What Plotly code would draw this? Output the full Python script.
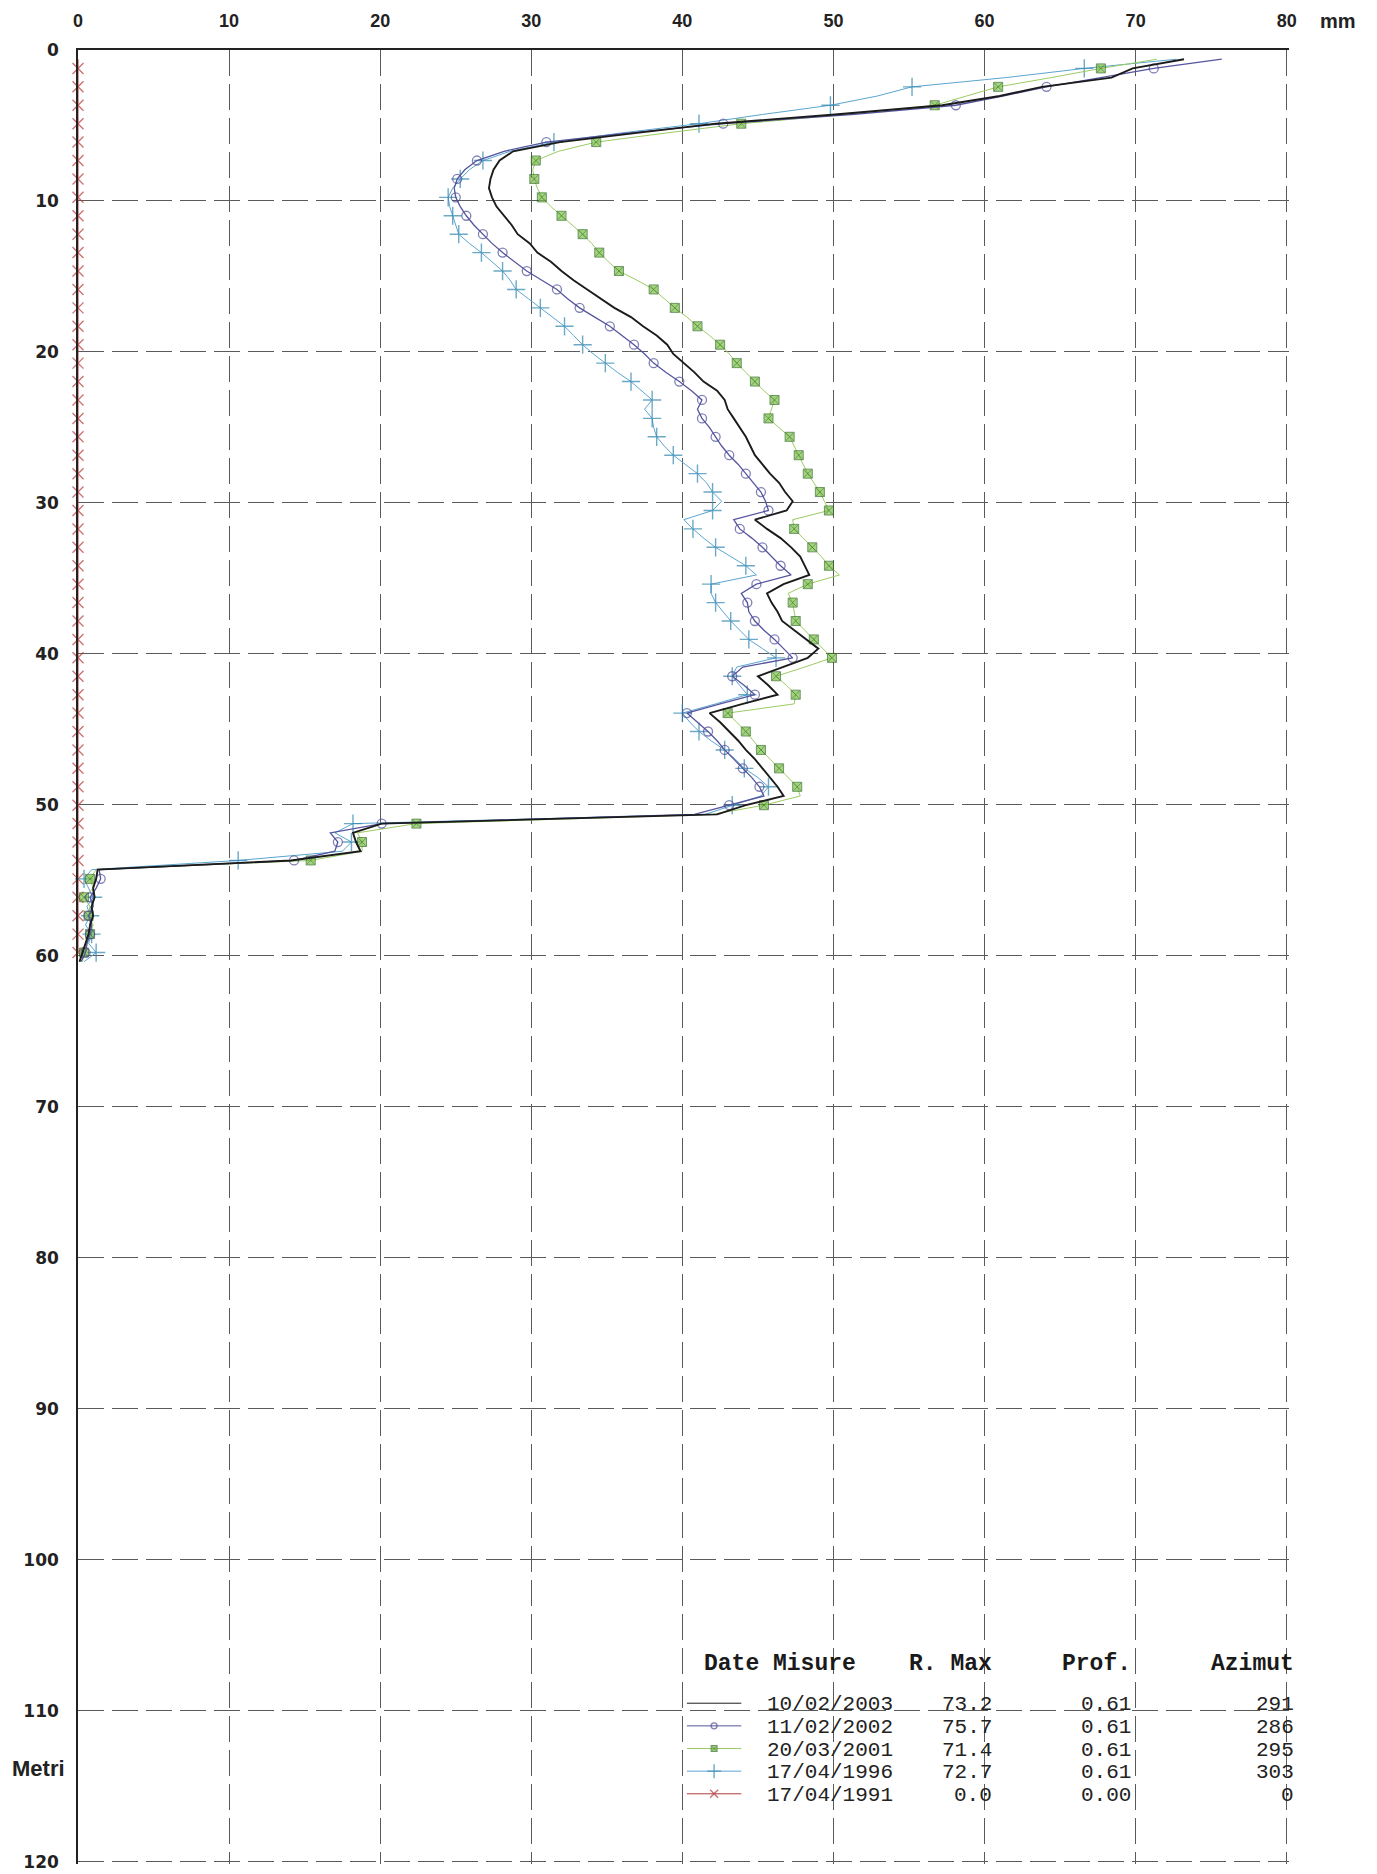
import plotly.graph_objects as go

# ---------------- data ----------------
DEPTH = [0.61, 1.22, 1.83, 2.44, 3.05, 3.66, 4.27, 4.88, 5.49, 6.10,
         6.71, 7.32, 7.93, 8.54, 9.15, 9.76, 10.37, 10.98, 11.59, 12.20,
         12.81, 13.42, 14.03, 14.64, 15.25, 15.86, 16.47, 17.08, 17.69, 18.30,
         18.91, 19.52, 20.13, 20.74, 21.35, 21.96, 22.57, 23.18, 23.79, 24.40,
         25.01, 25.62, 26.23, 26.84, 27.45, 28.06, 28.67, 29.28, 29.89, 30.50,
         31.11, 31.72, 32.33, 32.94, 33.55, 34.16, 34.77, 35.38, 35.99, 36.60,
         37.21, 37.82, 38.43, 39.04, 39.65, 40.26, 40.87, 41.48, 42.09, 42.70,
         43.31, 43.92, 44.53, 45.14, 45.75, 46.36, 46.97, 47.58, 48.19, 48.80,
         49.41, 50.02, 50.63, 51.24, 51.85, 52.46, 53.07, 53.68, 54.29, 54.90,
         55.51, 56.12, 56.73, 57.34, 57.95, 58.56, 59.17, 59.78, 60.39]

S_2003 = [73.2, 69.8, 68.4, 63.8, 61.0, 57.2, 50.1, 42.2, 37.0, 31.9,
          28.8, 27.9, 27.5, 27.3, 27.2, 27.4, 27.7, 28.2, 28.7, 29.1,
          29.9, 30.4, 31.3, 32.0, 32.8, 33.7, 34.6, 35.5, 36.6, 37.4,
          38.3, 39.0, 39.4, 40.1, 40.8, 41.4, 42.3, 42.8, 43.0, 43.4,
          43.8, 44.2, 44.5, 44.8, 45.3, 45.8, 46.4, 46.8, 47.3, 46.9,
          44.8, 45.6, 46.5, 47.2, 47.8, 48.1, 48.4, 46.7, 45.6, 45.9,
          46.3, 46.6, 47.4, 48.2, 49.0, 48.3, 46.7, 45.0, 45.7, 46.3,
          44.0, 41.8, 42.5, 43.1, 43.7, 44.2, 44.8, 45.3, 45.8, 46.3,
          46.7, 44.2, 42.3, 20.1, 18.2, 18.4, 18.7, 14.1, 1.3, 1.2,
          1.0, 1.1, 0.9, 1.0, 0.8, 0.7, 0.5, 0.3, 0.1]

S_2002 = [75.7, 71.2, 67.7, 64.1, 61.2, 58.1, 51.4, 42.7, 36.5, 31.0,
          28.2, 26.4, 25.6, 25.1, 24.9, 25.0, 25.3, 25.7, 26.2, 26.8,
          27.4, 28.1, 28.9, 29.7, 30.7, 31.7, 32.4, 33.2, 34.2, 35.2,
          36.0, 36.8, 37.5, 38.1, 38.9, 39.8, 40.6, 41.3, 41.0, 41.3,
          41.8, 42.2, 42.6, 43.1, 43.7, 44.2, 44.7, 45.2, 45.5, 45.7,
          43.4, 43.8, 44.6, 45.3, 45.9, 46.5, 47.2, 44.9, 43.9, 44.3,
          44.4, 44.8, 45.4, 46.1, 46.7, 47.3, 44.0, 43.3, 44.1, 44.8,
          42.5, 40.3, 41.0, 41.7, 42.3, 42.8, 43.4, 44.0, 44.6, 45.1,
          45.4, 43.1, 40.8, 20.1, 16.7, 17.2, 17.0, 14.3, 1.4, 1.5,
          1.2, 0.8, 1.0, 0.7, 0.9, 0.8, 0.6, 0.5, 0.2]

S_2001 = [71.4, 67.7, 64.4, 60.9, 58.8, 56.7, 50.8, 43.9, 39.0, 34.3,
          31.8, 30.3, 30.1, 30.2, 30.4, 30.7, 31.3, 32.0, 32.7, 33.4,
          34.0, 34.5, 35.1, 35.8, 37.0, 38.1, 38.8, 39.5, 40.3, 41.0,
          41.8, 42.5, 43.1, 43.6, 44.2, 44.8, 45.4, 46.1, 45.9, 45.7,
          46.4, 47.1, 47.4, 47.7, 48.0, 48.3, 48.7, 49.1, 49.4, 49.7,
          47.3, 47.4, 48.0, 48.6, 49.2, 49.7, 50.4, 48.3, 47.0, 47.3,
          47.4, 47.5, 48.1, 48.7, 49.3, 49.9, 48.1, 46.2, 46.9, 47.5,
          47.4, 43.0, 43.6, 44.2, 44.7, 45.2, 45.8, 46.4, 47.0, 47.6,
          47.8, 45.4, 42.0, 22.4, 18.5, 18.8, 18.8, 15.4, 1.2, 0.8,
          1.0, 0.4, 0.8, 0.7, 1.0, 0.8, 0.6, 0.4, 0.3]

S_1996 = [72.7, 66.6, 61.4, 55.2, 52.9, 49.8, 45.3, 41.1, 36.0, 31.5,
          28.6, 26.8, 25.9, 25.3, 24.8, 24.5, 24.6, 24.8, 25.0, 25.2,
          25.9, 26.7, 27.4, 28.1, 28.6, 29.0, 29.8, 30.6, 31.4, 32.2,
          32.8, 33.4, 34.1, 34.9, 35.7, 36.6, 37.3, 38.0, 37.5, 38.0,
          38.1, 38.3, 38.8, 39.4, 40.2, 41.0, 41.6, 42.0, 42.6, 42.0,
          40.1, 40.7, 41.4, 42.2, 43.2, 44.2, 44.9, 41.9, 41.9, 42.2,
          42.7, 43.2, 43.8, 44.4, 45.3, 46.2, 43.6, 43.3, 43.8, 44.3,
          42.2, 40.0, 40.5, 41.1, 41.9, 42.8, 43.5, 44.1, 45.0, 45.7,
          45.2, 43.3, 41.5, 18.2, 17.0, 18.1, 17.5, 10.6, 0.9, 0.4,
          0.7, 1.0, 0.6, 0.8, 0.5, 0.9, 0.7, 1.2, 0.4]

S_1991 = [0.0, 0.0, 0.0, 0.0, 0.0, 0.0, 0.0, 0.0, 0.0, 0.0,
          0.0, 0.0, 0.0, 0.0, 0.0, 0.0, 0.0, 0.0, 0.0, 0.0,
          0.0, 0.0, 0.0, 0.0, 0.0, 0.0, 0.0, 0.0, 0.0, 0.0,
          0.0, 0.0, 0.0, 0.0, 0.0, 0.0, 0.0, 0.0, 0.0, 0.0,
          0.0, 0.0, 0.0, 0.0, 0.0, 0.0, 0.0, 0.0, 0.0, 0.0,
          0.0, 0.0, 0.0, 0.0, 0.0, 0.0, 0.0, 0.0, 0.0, 0.0,
          0.0, 0.0, 0.0, 0.0, 0.0, 0.0, 0.0, 0.0, 0.0, 0.0,
          0.0, 0.0, 0.0, 0.0, 0.0, 0.0, 0.0, 0.0, 0.0, 0.0,
          0.0, 0.0, 0.0, 0.0, 0.0, 0.0, 0.0, 0.0, 0.0, 0.0,
          0.0, 0.0, 0.0, 0.0, 0.0, 0.0, 0.0, 0.0]

DATES = ["10/02/2003", "11/02/2002", "20/03/2001", "17/04/1996", "17/04/1991"]
R_MAX = ["73.2", "75.7", "71.4", "72.7", "0.0"]
PROF = ["0.61", "0.61", "0.61", "0.61", "0.00"]
AZIMUT = ["291", "286", "295", "303", "0"]
SERIES = [S_2003, S_2002, S_2001, S_1996, S_1991]

X_TICKS = [0, 10, 20, 30, 40, 50, 60, 70, 80]
Y_TICKS = [0, 10, 20, 30, 40, 50, 60, 70, 80, 90, 100, 110, 120]

# ---------------- styles ----------------
STYLES = [
    dict(line=dict(color="#1b1b1b", width=1.9), symbol=None, mcolor=None, mline=None, msize=0),
    dict(line=dict(color="#55559f", width=1.3), symbol="circle-open", mcolor="#4a4a98",
         mline=dict(color="#4a4a98", width=1.3), msize=9),
    dict(line=dict(color="#9ccc62", width=1.0), symbol="square-x", mcolor="#7cc242",
         mline=dict(color="#2f6b22", width=1.0), msize=9),
    dict(line=dict(color="#5ba5cf", width=1.0), symbol="cross-thin", mcolor="#2f86b0",
         mline=dict(color="#2f86b0", width=1.4), msize=13),
    dict(line=dict(color="#b33a3a", width=1.0), symbol="x-thin", mcolor="#b33a3a",
         mline=dict(color="#b33a3a", width=1.4), msize=11),
]

fig = go.Figure()

draw_order = [4, 3, 2, 1, 0]
for i in draw_order:
    st = STYLES[i]
    vals = SERIES[i]
    tr = dict(x=vals, y=DEPTH, mode="lines", line=st["line"], name=DATES[i],
              showlegend=False, cliponaxis=False, hoverinfo="skip")
    if st["symbol"]:
        sizes = [st["msize"] if (k % 2 == 1) else 0 for k in range(len(vals))]
        tr["mode"] = "lines+markers"
        tr["marker"] = dict(symbol=st["symbol"], size=sizes, color=st["mcolor"], line=st["mline"])
    fig.add_trace(go.Scatter(**tr))

# ---------------- legend table ----------------
MONO = "Courier New, Liberation Mono, monospace"
HEAD_Y = 106.9
ROW_Y0 = 109.6
ROW_DY = 1.5
SAMPLE_X = [40.3, 42.1, 43.9]
DATE_X = 45.5
RMAX_X = 60.6
PROF_X = 69.8
AZI_X = 80.0
AZI_SHIFT = 9

for txt, xx, anc, sh in [("Date Misure", 41.3, "left", 0), ("R. Max", RMAX_X, "right", 0),
                         ("Prof.", PROF_X, "right", 0), ("Azimut", AZI_X, "right", AZI_SHIFT)]:
    fig.add_annotation(x=xx, y=HEAD_Y, xref="x", yref="y", text=txt, showarrow=False,
                       xanchor=anc, yanchor="middle", xshift=sh,
                       font=dict(family=MONO, size=23, color="#1a1a1a", weight="bold"))

for r in range(len(DATES)):
    yy = ROW_Y0 + r * ROW_DY
    st = STYLES[r]
    tr = dict(x=SAMPLE_X, y=[yy - 0.1] * 3, mode="lines", line=dict(color=st["line"]["color"], width=1.0),
              showlegend=False, hoverinfo="skip", cliponaxis=False)
    if st["symbol"]:
        tr["mode"] = "lines+markers"
        tr["marker"] = dict(symbol=st["symbol"], size=[0, max(st["msize"] - 3, 6), 0],
                            color=st["mcolor"], line=st["mline"])
    fig.add_trace(go.Scatter(**tr))
    for txt, xx, anc, sh in [(DATES[r], DATE_X, "left", 0), (R_MAX[r], RMAX_X, "right", 0),
                             (PROF[r], PROF_X, "right", 0), (AZIMUT[r], AZI_X, "right", AZI_SHIFT)]:
        fig.add_annotation(x=xx, y=yy, xref="x", yref="y", text=txt, showarrow=False,
                           xanchor=anc, yanchor="middle", xshift=sh,
                           font=dict(family=MONO, size=21, color="#222222"))

# ---------------- axis titles ----------------
fig.add_annotation(x=1.0405, y=1.016, xref="paper", yref="paper", text="mm", showarrow=False,
                   xanchor="center", yanchor="middle",
                   font=dict(family="Liberation Sans, Arial, sans-serif", size=20, color="#222", weight="bold"))
fig.add_annotation(x=-0.033, y=0.0524, xref="paper", yref="paper", text="Metri", showarrow=False,
                   xanchor="center", yanchor="middle",
                   font=dict(family="Liberation Sans, Arial, sans-serif", size=22, color="#222", weight="bold"))

GRID = dict(showgrid=True, gridcolor="#5a5a5a", gridwidth=1.2, griddash="26px,8px",
            zeroline=False, ticks="", showline=True, linecolor="#222222", linewidth=1.6,
            automargin=False)

# the page body adds an 8px offset, so the figure is sized to end at the window edge
fig.update_layout(
    width=1369, height=1866,
    margin=dict(l=70, r=88, t=42, b=10),
    paper_bgcolor="white", plot_bgcolor="white",
    showlegend=False,
    xaxis=dict(range=[0, 80.15], side="top", tickvals=X_TICKS, ticktext=[str(v) for v in X_TICKS],
               ticklabelstandoff=14,
               tickfont=dict(family="Liberation Sans Narrow, Arial Narrow, Liberation Sans, sans-serif",
                             size=18, color="#222", weight="bold"),
               **GRID),
    yaxis=dict(range=[120.15, 0], tickvals=Y_TICKS, ticktext=[str(v) for v in Y_TICKS],
               ticklabelstandoff=14,
               tickfont=dict(family="DejaVu Sans, Verdana, sans-serif", size=17, color="#222", weight="bold"),
               **GRID),
)

fig.write_html("out.html")
